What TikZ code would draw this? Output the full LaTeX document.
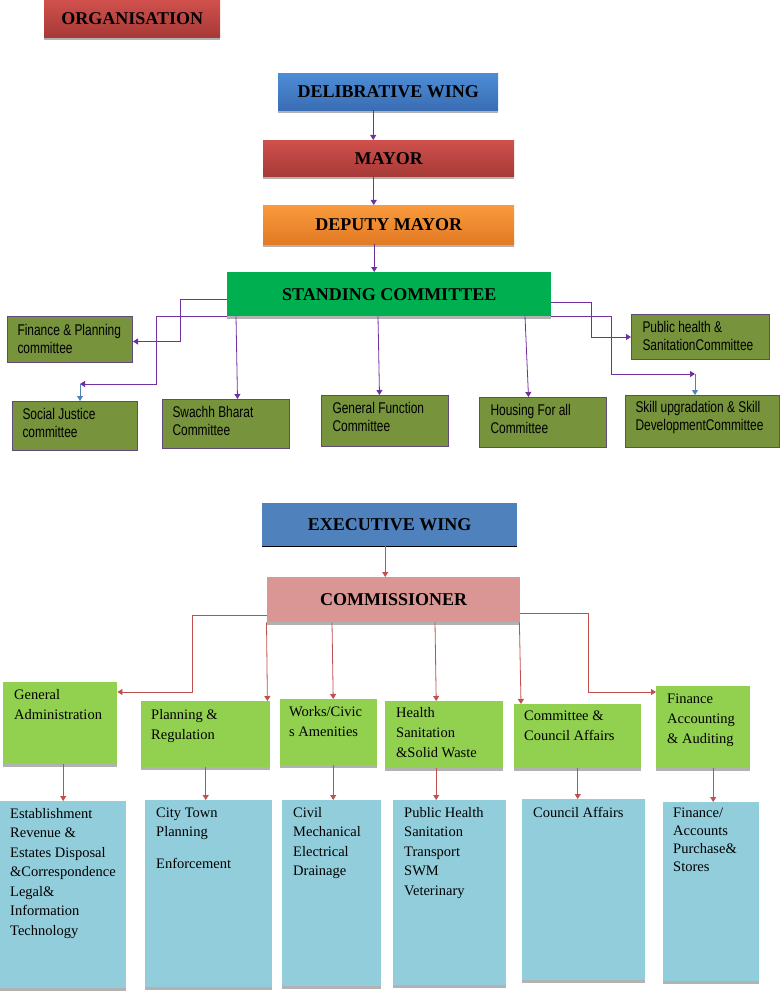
\documentclass[tikz,border=0pt]{standalone}
\usepackage{fontspec}
\setmainfont{Liberation Serif}
\newfontfamily\cfont[FakeStretch=0.77]{Liberation Sans}
\usetikzlibrary{arrows.meta,shadows}
\definecolor{hred1}{HTML}{D0504C}
\definecolor{hred2}{HTML}{A63A37}
\definecolor{hblue1}{HTML}{4C8DD6}
\definecolor{hblue2}{HTML}{3A6DB3}
\definecolor{hor1}{HTML}{F99A3C}
\definecolor{hor2}{HTML}{E27A24}
\definecolor{scgreen}{HTML}{00B050}
\definecolor{olivebox}{HTML}{77933C}
\definecolor{oliveedge}{HTML}{5F4B7B}
\definecolor{ewblue}{HTML}{4F81BD}
\definecolor{pinkbox}{HTML}{D99694}
\definecolor{lgreen}{HTML}{92D050}
\definecolor{lblue}{HTML}{92CDDC}
\definecolor{purp}{HTML}{7030A0}
\definecolor{barrow}{HTML}{4F81BD}
\definecolor{rarrow}{HTML}{C0504D}
\newcommand\tb[5]{\parbox[b][#2][t]{#1}{\raggedright\leftskip=#3\relax\rule{0pt}{#4}#5}}
\begin{document}
\begin{tikzpicture}[x=1pt,y=-1pt,
  hshadow/.style={drop shadow={shadow xshift=0pt,shadow yshift=-3pt,fill=black!30,opacity=1}},
  hdr/.style={anchor=north west,inner sep=0pt,font=\bfseries\fontsize{18}{18}\selectfont,text=black,hshadow},
  cbox/.style={draw=oliveedge,line width=1pt,fill=olivebox,inner sep=0pt,anchor=north west,font=\cfont\fontsize{15.5}{18}\selectfont},
  gbox/.style={fill=lgreen,inner sep=0pt,anchor=north west,font=\fontsize{14.5}{20}\selectfont,hshadow},
  bbox/.style={fill=lblue,inner sep=0pt,anchor=north west,font=\fontsize{14.5}{19.5}\selectfont,hshadow},
  tip/.style={-{Triangle[width=6pt,length=5pt]}},
  parr/.style={draw=purp,line width=0.8pt,tip},
  barr/.style={draw=barrow,line width=0.8pt,tip},
  rarr/.style={draw=rarrow,line width=0.8pt,tip}]
\useasboundingbox (0,0) rectangle (782,992);

% ---- deliberative wing ----
\node[hdr,top color=hred1,bottom color=hred2,minimum width=176pt,minimum height=37pt] (org) at (44,0) {ORGANISATION};
\node[hdr,top color=hblue1,bottom color=hblue2,minimum width=220pt,minimum height=37pt] (dw) at (278,73) {DELIBRATIVE WING};
\node[hdr,top color=hred1,bottom color=hred2,minimum width=251pt,minimum height=36pt] (mayor) at (263,140) {MAYOR};
\node[hdr,top color=hor1,bottom color=hor2,minimum width=251pt,minimum height=39pt] (dmayor) at (263,205) {DEPUTY MAYOR};
\node[hdr,fill=scgreen,minimum width=324pt,minimum height=44pt] (sc) at (227,272) {STANDING COMMITTEE};

\node[cbox] (fp) at (7,316) {\tb{125pt}{46pt}{10pt}{19pt}{Finance \& Planning\\committee}};
\node[cbox] (sj) at (12,401) {\tb{125pt}{49pt}{10pt}{18pt}{Social Justice\\committee}};
\node[cbox] (sbc) at (162,399) {\tb{127pt}{49pt}{10pt}{18pt}{Swachh Bharat\\Committee}};
\node[cbox] (gf) at (321,395) {\tb{127pt}{51pt}{11pt}{18pt}{General Function\\Committee}};
\node[cbox] (hfa) at (479,397) {\tb{127pt}{50pt}{11pt}{18pt}{Housing For all\\Committee}};
\node[cbox] (ph) at (631,314) {\tb{138pt}{45pt}{11pt}{18pt}{Public health \&\\SanitationCommittee}};
\node[cbox] (skill) at (625,395) {\tb{154pt}{52pt}{10pt}{17pt}{Skill upgradation \& Skill\\DevelopmentCommittee}};

\draw[parr] ([xshift=-15pt]dw.south) -- ([xshift=-15pt]dw.south |- mayor.north);
\draw[parr] ([xshift=-15pt]mayor.south) -- ([xshift=-15pt]mayor.south |- dmayor.north);
\draw[parr] ([xshift=-14.5pt]dmayor.south) -- ([xshift=-14.5pt]dmayor.south |- sc.north);

\draw[parr] ([yshift=-5pt]sc.west) -- ++(-47,0) |- ([yshift=-2pt]fp.east);
\coordinate (sjk) at (80,384);
\draw[parr] (sc.south west) -- ++(-71,0) |- (sjk);
\draw[barr] (sjk) -- (sjk |- sj.north);
\draw[parr] ([xshift=9pt]sc.south west) -- ([xshift=11.5pt]sbc.north);
\draw[parr] ([xshift=151pt]sc.south west) -- ([xshift=-5.5pt]gf.north);
\draw[parr] ([xshift=298pt]sc.south west) -- ([xshift=-14.5pt]hfa.north);
\draw[parr] ([yshift=-8pt]sc.east) -- ++(40,0) |- (ph.west);
\coordinate (skk) at (695,374);
\draw[parr] (sc.south east) -- ++(60,0) |- (skk);
\draw[barr] (skk) -- (skk |- skill.north);

% ---- executive wing ----
\node[anchor=north west,inner sep=0pt,fill=ewblue,minimum width=255pt,minimum height=43pt,font=\bfseries\fontsize{18}{18}\selectfont] (ew) at (262,503) {EXECUTIVE WING};
\draw[black,line width=1.2pt] (ew.south west) -- (ew.south east);
\node[hdr,fill=pinkbox,minimum width=253pt,minimum height=45pt] (comm) at (267,577) {COMMISSIONER};

\node[gbox] (ga) at (3,682) {\tb{114pt}{82pt}{11pt}{17pt}{General\\Administration}};
\node[gbox] (pr) at (141,701) {\tb{129pt}{66pt}{10pt}{18pt}{Planning \&\\Regulation}};
\node[gbox] (wc) at (280,699) {\tb{97pt}{66pt}{9pt}{17pt}{Works/Civic\\s Amenities}};
\node[gbox] (hs) at (385,701) {\tb{118pt}{67pt}{11pt}{16pt}{Health\\Sanitation\\\&Solid Waste}};
\node[gbox] (ca) at (514,704) {\tb{127pt}{64pt}{10pt}{16pt}{Committee \&\\Council Affairs}};
\node[gbox] (fa) at (656,686) {\tb{94pt}{82pt}{11pt}{17pt}{Finance\\Accounting\\\& Auditing}};

\node[bbox] (est) at (0,801) {\tb{126pt}{187pt}{10pt}{17pt}{Establishment\\Revenue \&\\Estates Disposal\\\&Correspondence\\Legal\&\\Information\\Technology}};
\node[bbox] (ctp) at (145,800) {\tb{127pt}{187pt}{11pt}{17pt}{City Town\\Planning\\[12pt]Enforcement}};
\node[bbox] (civ) at (282,800) {\tb{99pt}{186pt}{11pt}{17pt}{Civil\\Mechanical\\Electrical\\Drainage}};
\node[bbox] (ph2) at (393,800) {\tb{113pt}{185pt}{11pt}{17pt}{Public Health\\Sanitation\\Transport\\SWM\\Veterinary}};
\node[bbox] (ca2) at (522,799) {\tb{123pt}{181pt}{11pt}{18pt}{Council Affairs}};
\node[bbox,font=\fontsize{14.5}{18}\selectfont] (fin2) at (663,802) {\tb{96pt}{179pt}{10pt}{15pt}{Finance/\\Accounts\\Purchase\&\\Stores}};

\draw[rarr] ([xshift=-4.5pt]ew.south) -- ([xshift=-4.5pt]ew.south |- comm.north);
\draw[rarr] ([yshift=-15.5pt]comm.west) -- ++(-75,0) |- ([yshift=-10pt]ga.north east);
\draw[rarr] ([xshift=-0.5pt]comm.south west) -- ([xshift=-3pt]pr.north east);
\draw[rarr] ([xshift=65pt]comm.south west) -- ([xshift=4.5pt]wc.north);
\draw[rarr] ([xshift=168pt]comm.south west) -- ([xshift=-8pt]hs.north);
\draw[rarr] ([xshift=-1pt]comm.south east) -- ([xshift=7pt]ca.north west);
\draw[rarr] ([yshift=-13.5pt]comm.east) -- ++(68,0) |- ([yshift=-6pt]fa.north west);

\draw[rarr] ([xshift=3pt]ga.south) -- ([xshift=3pt]ga.south |- est.north);
\draw[rarr] (pr.south) -- (pr.south |- ctp.north);
\draw[rarr] ([xshift=4.5pt]wc.south) -- ([xshift=4.5pt]wc.south |- civ.north);
\draw[rarr] ([xshift=-8pt]hs.south) -- ([xshift=-8pt]hs.south |- ph2.north);
\draw[rarr] (ca.south) -- (ca.south |- ca2.north);
\draw[rarr] ([xshift=10pt]fa.south) -- ([xshift=10pt]fa.south |- fin2.north);
\end{tikzpicture}
\end{document}
